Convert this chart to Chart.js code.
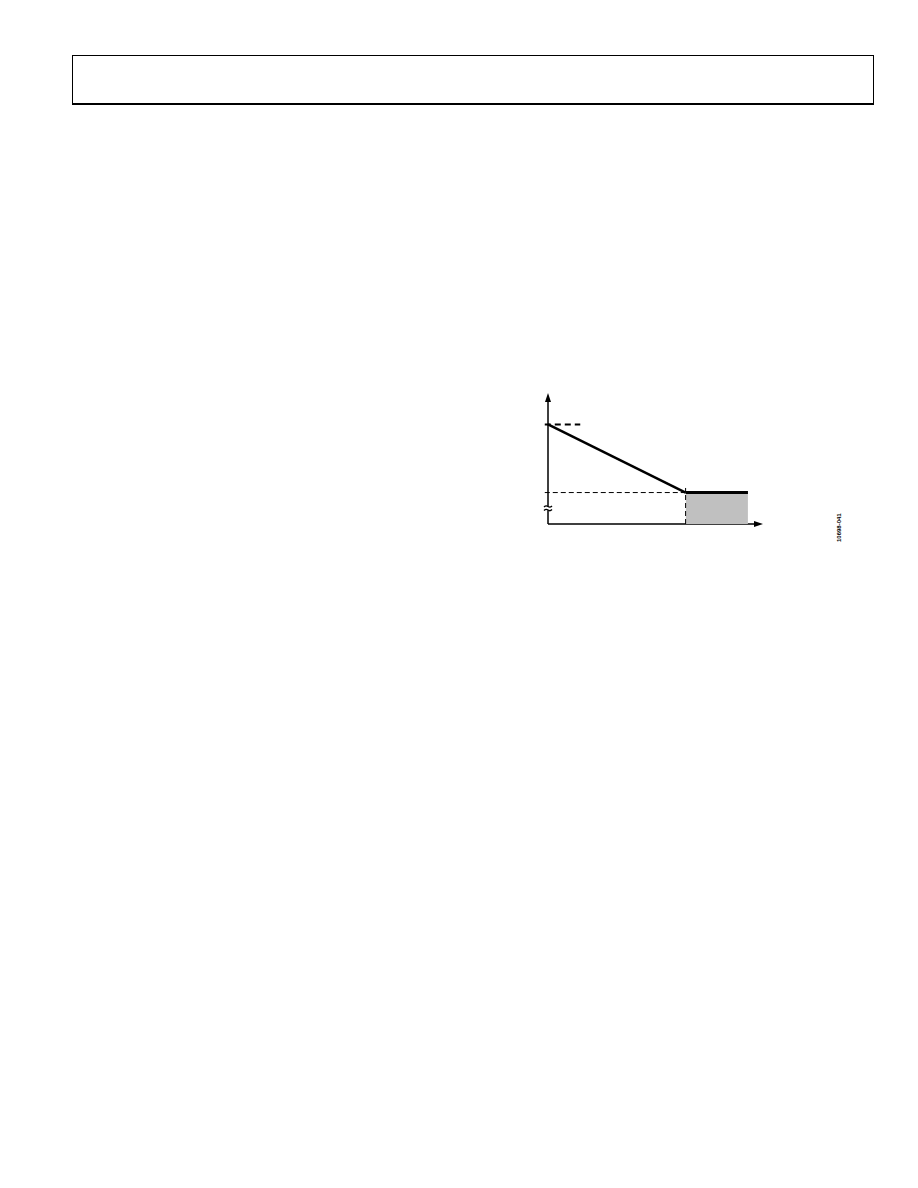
<!DOCTYPE html>
<html>
<head>
<meta charset="utf-8">
<script src="https://cdn.jsdelivr.net/npm/chart.js@4"></script>
<style>
  body { margin: 0; background: #fff; width: 918px; height: 1188px; position: relative; font-family: "Liberation Sans", Arial, sans-serif; }
  .header { position: absolute; left: 72px; top: 55px; width: 800px; height: 47px; border: 1px solid #000; border-bottom: 2px solid #000; }
  #fig { position: absolute; left: 520px; top: 380px; }
  .figid { position: absolute; left: 836px; top: 542px; font-family: "Liberation Sans", Arial, sans-serif; font-size: 6px; font-weight: bold; transform: rotate(-90deg); transform-origin: left top; white-space: nowrap; color: #000; }
</style>
</head>
<body>
<div class="header"></div>
<canvas id="fig" width="270" height="170"></canvas>
<div class="figid">10698-041</div>
<script>
// axis extents (data units)
const xMax = 10;
const yMax = 10;

// sloped part, then flat part
const slopeX = [0, 6.4];
const slopeY = [7.6, 2.4];
const flatX = [6.4, 9.3];
const flatY = [2.4, 2.4];

// dashed guide lines
const topGuideX = [-0.15, 1.5];
const topGuideY = [7.6, 7.6];
const midGuideX = [-0.15, 6.4];
const midGuideY = [2.4, 2.4];
const vGuideX = [6.4, 6.4];
const vGuideY = [0, 2.75];

// break marker on the y axis
const breakY = 1.2;

function pts(xs, ys) {
  return xs.map((x, i) => ({ x: x, y: ys[i] }));
}

// axes with arrow heads plus the break mark
const axesPlugin = {
  id: "axes",
  beforeDatasetsDraw(chart) {
    const ctx = chart.ctx;
    const xs = chart.scales.x;
    const ys = chart.scales.y;
    const x0 = xs.getPixelForValue(0);
    const y0 = ys.getPixelForValue(0);
    const xEnd = xs.getPixelForValue(xMax);
    const yEnd = ys.getPixelForValue(yMax);
    ctx.save();
    ctx.strokeStyle = "#000";
    ctx.fillStyle = "#000";
    ctx.lineWidth = 1.5;
    ctx.beginPath();
    ctx.moveTo(x0, y0);
    ctx.lineTo(x0, yEnd + 6);
    ctx.moveTo(x0, y0);
    ctx.lineTo(xEnd - 6, y0);
    ctx.stroke();
    // arrow heads
    ctx.beginPath();
    ctx.moveTo(x0, yEnd);
    ctx.lineTo(x0 - 3, yEnd + 9);
    ctx.lineTo(x0 + 3, yEnd + 9);
    ctx.closePath();
    ctx.fill();
    ctx.beginPath();
    ctx.moveTo(xEnd, y0);
    ctx.lineTo(xEnd - 9, y0 - 3);
    ctx.lineTo(xEnd - 9, y0 + 3);
    ctx.closePath();
    ctx.fill();
    // break mark
    const by = ys.getPixelForValue(breakY);
    ctx.fillStyle = "#fff";
    ctx.fillRect(x0 - 1, by - 2, 3, 4);
    ctx.lineWidth = 1.3;
    ctx.beginPath();
    [-1.8, 1.8].forEach((d) => {
      ctx.moveTo(x0 - 4, by + d + 0.5);
      ctx.quadraticCurveTo(x0 - 2, by + d - 1.5, x0, by + d);
      ctx.quadraticCurveTo(x0 + 2, by + d + 1.5, x0 + 4, by + d - 0.5);
    });
    ctx.stroke();
    ctx.restore();
  },
};

new Chart(document.getElementById("fig"), {
  type: "line",
  data: {
    datasets: [
      {
        data: pts(flatX, flatY),
        backgroundColor: "#c0c0c0",
        borderWidth: 0,
        fill: "origin",
        pointRadius: 0,
        order: 5,
      },
      {
        data: pts(midGuideX, midGuideY),
        borderColor: "#000",
        borderWidth: 1,
        borderDash: [5, 3],
        pointRadius: 0,
      },
      {
        data: pts(vGuideX, vGuideY),
        borderColor: "#000",
        borderWidth: 1,
        borderDash: [5, 3],
        pointRadius: 0,
      },
      {
        data: pts(topGuideX, topGuideY),
        borderColor: "#000",
        borderWidth: 2,
        borderDash: [6, 4],
        pointRadius: 0,
      },
      {
        data: pts(slopeX, slopeY),
        borderColor: "#000",
        borderWidth: 2.5,
        pointRadius: 0,
      },
      {
        data: pts(flatX, flatY),
        borderColor: "#000",
        borderWidth: 3,
        borderCapStyle: "butt",
        pointRadius: 0,
      },
    ],
  },
  options: {
    responsive: false,
    animation: false,
    layout: { padding: { left: 28, right: 27, top: 13, bottom: 26 } },
    plugins: { legend: { display: false }, tooltip: { enabled: false } },
    scales: {
      x: { type: "linear", min: 0, max: xMax, display: false },
      y: { type: "linear", min: 0, max: yMax, display: false },
    },
    clip: false,
  },
  plugins: [axesPlugin],
});
</script>
</body>
</html>
